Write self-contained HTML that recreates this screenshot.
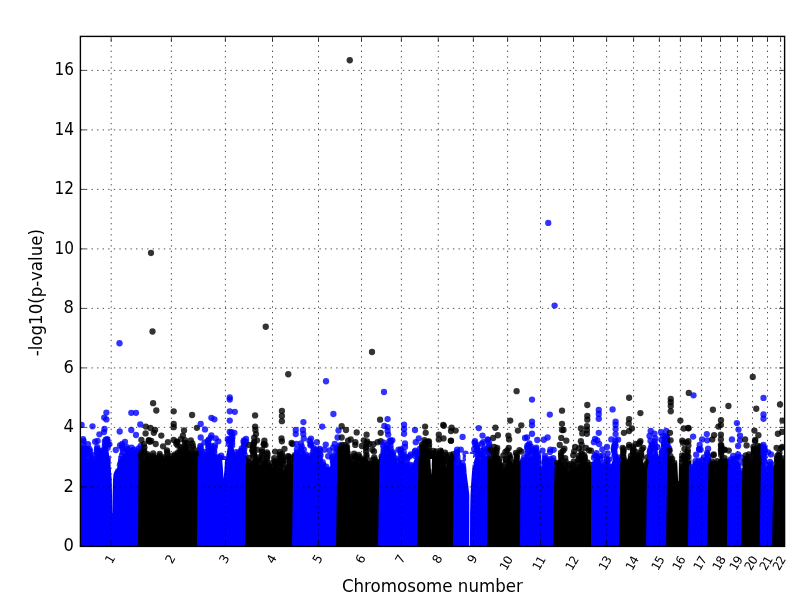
<!DOCTYPE html>
<html><head><meta charset="utf-8"><title>Manhattan plot</title>
<style>html,body{margin:0;padding:0;background:#fff;overflow:hidden}svg{display:block}text{font-family:"DejaVu Sans","Liberation Sans",sans-serif;fill:#000}</style></head><body>
<svg width="800" height="600" viewBox="0 0 800 600">
<rect width="800" height="600" fill="#fff"/>
<defs><clipPath id="ax"><rect x="80.4" y="36.4" width="704.2" height="510"/></clipPath></defs>
<g clip-path="url(#ax)">
<path d="M80 548.4 L80 444.12 L81.41 446.46 L82.71 446.54 L84.42 447.55 L86.33 457.83 L88.14 458.77 L89.47 461.11 L91.83 460.62 L93.34 461.94 L95.87 453.14 L97.62 454.63 L98.89 453.68 L100.49 449.65 L101.86 450.08 L104.2 443.5 L106.21 446.8 L107.94 447.21 L109.22 456.21 L110.71 467.49 L112.51 472.07 L114.53 471.71 L116.15 470.32 L118.33 464.24 L120.33 457.63 L122.76 455.01 L124.36 454.28 L125.73 451.02 L127.99 448.93 L129.87 447.74 L132.01 450.65 L134.01 450.54 L135.65 449.09 L137.68 453.44 L139.52 455.7 L141 454 L141 548.4Z" fill="#0000ff"/>
<g fill="#0000ff" fill-opacity="0.8"><circle cx="82.67" cy="447.6" r="3.15"/><circle cx="83.38" cy="444.7" r="3.15"/><circle cx="83.59" cy="441.21" r="3.15"/><circle cx="83.06" cy="439.14" r="3.15"/><circle cx="84.81" cy="456.24" r="3.15"/><circle cx="85.59" cy="454.62" r="3.15"/><circle cx="84.96" cy="452.86" r="3.15"/><circle cx="85.71" cy="450.58" r="3.15"/><circle cx="85.21" cy="448.92" r="3.15"/><circle cx="89.65" cy="462.68" r="3.15"/><circle cx="89.75" cy="460.35" r="3.15"/><circle cx="90.47" cy="457.08" r="3.15"/><circle cx="89.53" cy="455.28" r="3.15"/><circle cx="89.6" cy="453.31" r="3.15"/><circle cx="90.02" cy="450.84" r="3.15"/><circle cx="89.32" cy="448.82" r="3.15"/><circle cx="93.25" cy="463.87" r="3.15"/><circle cx="93.17" cy="461.34" r="3.15"/><circle cx="92.49" cy="458.49" r="3.15"/><circle cx="93.36" cy="455.19" r="3.15"/><circle cx="96.94" cy="453.31" r="3.15"/><circle cx="96.89" cy="450.54" r="3.15"/><circle cx="97.07" cy="448.91" r="3.15"/><circle cx="97.23" cy="447.08" r="3.15"/><circle cx="99.26" cy="452.74" r="3.15"/><circle cx="99.87" cy="451.19" r="3.15"/><circle cx="101.7" cy="452.04" r="3.15"/><circle cx="102.28" cy="450.29" r="3.15"/><circle cx="104.79" cy="446.63" r="3.15"/><circle cx="104.98" cy="444.45" r="3.15"/><circle cx="104.86" cy="441.29" r="3.15"/><circle cx="105.8" cy="439.74" r="3.15"/><circle cx="107.74" cy="447.85" r="3.15"/><circle cx="108.14" cy="444.39" r="3.15"/><circle cx="107.42" cy="441.5" r="3.15"/><circle cx="107.3" cy="439.27" r="3.15"/><circle cx="110.97" cy="472.3" r="3.15"/><circle cx="111.88" cy="469.17" r="3.15"/><circle cx="111.67" cy="465.97" r="3.15"/><circle cx="111.59" cy="462.83" r="3.15"/><circle cx="111.32" cy="460.88" r="3.15"/><circle cx="110.74" cy="458.67" r="3.15"/><circle cx="114.69" cy="473.72" r="3.15"/><circle cx="114.66" cy="471.33" r="3.15"/><circle cx="118.68" cy="463.48" r="3.15"/><circle cx="118.65" cy="461.59" r="3.15"/><circle cx="119.48" cy="458.84" r="3.15"/><circle cx="121.94" cy="455.34" r="3.15"/><circle cx="122.93" cy="452.51" r="3.15"/><circle cx="122.74" cy="449.45" r="3.15"/><circle cx="122.06" cy="446.99" r="3.15"/><circle cx="122.24" cy="443.92" r="3.15"/><circle cx="127.89" cy="451.88" r="3.15"/><circle cx="126.96" cy="448.93" r="3.15"/><circle cx="126.94" cy="447.18" r="3.15"/><circle cx="132.35" cy="450.41" r="3.15"/><circle cx="131.6" cy="447.59" r="3.15"/><circle cx="134.35" cy="449.61" r="3.15"/><circle cx="139.36" cy="455" r="3.15"/><circle cx="138.67" cy="453.08" r="3.15"/><circle cx="138.66" cy="450.99" r="3.15"/><circle cx="138.68" cy="448.32" r="3.15"/><circle cx="115.84" cy="458.38" r="3.15"/><circle cx="109.39" cy="444.37" r="3.15"/><circle cx="95.12" cy="441.75" r="3.15"/><circle cx="86.98" cy="449.49" r="3.15"/><circle cx="88.02" cy="444.17" r="3.15"/></g>
<path d="M111 446 L118.6 446 L118.2 460 L115.6 469 L113.5 474 L113 480 L112.6 495 L112.3 513 L112.1 513 L112 495 L111.7 480 L111.2 474 L110.6 465Z" fill="#fff"/>
<g fill="#0000ff" fill-opacity="0.8"><circle cx="106.4" cy="412.6" r="3.15"/><circle cx="104.2" cy="417.6" r="3.15"/><circle cx="106.4" cy="419.4" r="3.15"/><circle cx="81.6" cy="424.9" r="3.15"/><circle cx="92.5" cy="426.3" r="3.15"/><circle cx="104.5" cy="429" r="3.15"/><circle cx="99.4" cy="434.3" r="3.15"/><circle cx="104" cy="432" r="3.15"/><circle cx="107" cy="440" r="3.15"/><circle cx="97.6" cy="441" r="3.15"/><circle cx="131.3" cy="412.8" r="3.15"/><circle cx="136" cy="412.8" r="3.15"/><circle cx="140.3" cy="424.4" r="3.15"/><circle cx="119.7" cy="431.5" r="3.15"/><circle cx="131.3" cy="430" r="3.15"/><circle cx="136" cy="435" r="3.15"/><circle cx="125" cy="442" r="3.15"/><circle cx="120" cy="445.4" r="3.15"/><circle cx="115.8" cy="450" r="3.15"/><circle cx="140.7" cy="446" r="3.15"/><circle cx="119.5" cy="343.25" r="3.15"/></g>
<path d="M138 548.4 L138.5 461.05 L139.7 458.79 L141.71 461.02 L143.5 460.71 L145.4 458.31 L147.34 455.26 L149.15 455.63 L150.36 458.5 L151.8 456.87 L154.01 457.28 L155.67 457.09 L157.65 458.42 L159 457.3 L160.54 455.99 L162.83 457.6 L164.81 459.26 L167.29 458.17 L169.35 458.9 L171.26 459.46 L173.1 457.93 L174.97 459.22 L177.15 458.02 L179.66 453.93 L181.65 456.12 L184.02 450.5 L185.39 451.11 L186.7 449.94 L188 452.51 L190.3 454.42 L191.71 453.98 L193.84 451.95 L196.27 457.05 L197.78 457.26 L199.54 454.94 L200.2 455 L200.2 548.4Z" fill="#000000"/>
<g fill="#000000" fill-opacity="0.8"><circle cx="141.51" cy="460" r="3.15"/><circle cx="141.48" cy="458.11" r="3.15"/><circle cx="141.12" cy="455.16" r="3.15"/><circle cx="141.63" cy="452.56" r="3.15"/><circle cx="144.17" cy="459.33" r="3.15"/><circle cx="145.04" cy="455.86" r="3.15"/><circle cx="144.22" cy="452.41" r="3.15"/><circle cx="144.14" cy="450.38" r="3.15"/><circle cx="144.42" cy="447.32" r="3.15"/><circle cx="148.46" cy="458.51" r="3.15"/><circle cx="148.2" cy="455.87" r="3.15"/><circle cx="147.43" cy="454.19" r="3.15"/><circle cx="151.4" cy="458" r="3.15"/><circle cx="154" cy="458" r="3.15"/><circle cx="153.04" cy="455.96" r="3.15"/><circle cx="153.17" cy="453.41" r="3.15"/><circle cx="155.75" cy="458" r="3.15"/><circle cx="159.86" cy="458.05" r="3.15"/><circle cx="159.67" cy="455.86" r="3.15"/><circle cx="159.67" cy="453.86" r="3.15"/><circle cx="164.43" cy="458.78" r="3.15"/><circle cx="164.29" cy="457.07" r="3.15"/><circle cx="167.97" cy="459.48" r="3.15"/><circle cx="167.79" cy="457.29" r="3.15"/><circle cx="167.55" cy="454.38" r="3.15"/><circle cx="167.21" cy="452.07" r="3.15"/><circle cx="166.95" cy="450.46" r="3.15"/><circle cx="171.11" cy="459.36" r="3.15"/><circle cx="172.06" cy="456.17" r="3.15"/><circle cx="174.41" cy="458.22" r="3.15"/><circle cx="174.39" cy="456.4" r="3.15"/><circle cx="175.01" cy="454.38" r="3.15"/><circle cx="177.87" cy="456.76" r="3.15"/><circle cx="177.5" cy="454.55" r="3.15"/><circle cx="178.07" cy="452.28" r="3.15"/><circle cx="180.42" cy="455.53" r="3.15"/><circle cx="180.58" cy="453.85" r="3.15"/><circle cx="180.13" cy="452.27" r="3.15"/><circle cx="180.38" cy="450.16" r="3.15"/><circle cx="180.74" cy="447.49" r="3.15"/><circle cx="184.54" cy="452.88" r="3.15"/><circle cx="185.26" cy="450.73" r="3.15"/><circle cx="184.94" cy="448.93" r="3.15"/><circle cx="184.13" cy="446.15" r="3.15"/><circle cx="185.15" cy="442.98" r="3.15"/><circle cx="184.96" cy="440.22" r="3.15"/><circle cx="187.49" cy="452.36" r="3.15"/><circle cx="187.48" cy="449.25" r="3.15"/><circle cx="187.56" cy="446.59" r="3.15"/><circle cx="187.32" cy="443.72" r="3.15"/><circle cx="188.71" cy="453.06" r="3.15"/><circle cx="193.08" cy="454.34" r="3.15"/><circle cx="192.27" cy="451.87" r="3.15"/><circle cx="193.16" cy="448.77" r="3.15"/><circle cx="192.9" cy="446.26" r="3.15"/><circle cx="192.34" cy="443.45" r="3.15"/><circle cx="195.89" cy="455.45" r="3.15"/><circle cx="195.91" cy="453.54" r="3.15"/><circle cx="199.32" cy="456" r="3.15"/><circle cx="199.24" cy="452.97" r="3.15"/><circle cx="198.59" cy="450.18" r="3.15"/><circle cx="149.98" cy="441.85" r="3.15"/><circle cx="151.21" cy="440.87" r="3.15"/><circle cx="176.27" cy="443.65" r="3.15"/><circle cx="176.82" cy="441.61" r="3.15"/><circle cx="143.97" cy="444.21" r="3.15"/><circle cx="176.94" cy="442.03" r="3.15"/><circle cx="163.07" cy="446.35" r="3.15"/><circle cx="148.82" cy="440.19" r="3.15"/><circle cx="180.96" cy="439.27" r="3.15"/></g>
<g fill="#000000" fill-opacity="0.8"><circle cx="153.1" cy="403.2" r="3.15"/><circle cx="156.3" cy="410.5" r="3.15"/><circle cx="173.7" cy="411.3" r="3.15"/><circle cx="192.1" cy="415" r="3.15"/><circle cx="173.7" cy="424" r="3.15"/><circle cx="173.7" cy="427.2" r="3.15"/><circle cx="145.8" cy="426.6" r="3.15"/><circle cx="150.4" cy="428" r="3.15"/><circle cx="155.1" cy="430" r="3.15"/><circle cx="153.8" cy="432.8" r="3.15"/><circle cx="145.6" cy="433.4" r="3.15"/><circle cx="161.3" cy="435.6" r="3.15"/><circle cx="184" cy="430.4" r="3.15"/><circle cx="182.9" cy="435.6" r="3.15"/><circle cx="196.9" cy="427.8" r="3.15"/><circle cx="141.4" cy="440" r="3.15"/><circle cx="148.9" cy="440.7" r="3.15"/><circle cx="173.7" cy="440" r="3.15"/><circle cx="167.9" cy="442.2" r="3.15"/><circle cx="190.8" cy="440.3" r="3.15"/><circle cx="177.8" cy="445.4" r="3.15"/><circle cx="155.7" cy="444" r="3.15"/><circle cx="151" cy="253" r="3.15"/><circle cx="152.5" cy="331.5" r="3.15"/></g>
<path d="M197 548.4 L197.7 458.22 L198.63 455.46 L199.84 449.27 L201.42 452.71 L203.59 454.03 L205.2 453.81 L207.05 450.97 L208.41 451.19 L209.89 449.54 L212.4 446.99 L214.24 452.84 L216.8 454.88 L218.38 457.89 L220.9 462.72 L222.91 466.95 L224.85 471.26 L226.23 456.08 L228.15 444.99 L230.33 442.59 L232.79 444.85 L234.02 449.67 L235.91 459.48 L237.53 459.23 L239.21 461.45 L241.59 457.33 L243.84 456.17 L245.21 454.18 L247.41 458.01 L248.3 456 L248.3 548.4Z" fill="#0000ff"/>
<g fill="#0000ff" fill-opacity="0.8"><circle cx="201.5" cy="452.54" r="3.15"/><circle cx="200.73" cy="449.86" r="3.15"/><circle cx="200.63" cy="447.51" r="3.15"/><circle cx="200.42" cy="445.91" r="3.15"/><circle cx="203.38" cy="454.25" r="3.15"/><circle cx="204.3" cy="452.01" r="3.15"/><circle cx="208.72" cy="450.53" r="3.15"/><circle cx="208.46" cy="447.93" r="3.15"/><circle cx="208.47" cy="446.33" r="3.15"/><circle cx="208.5" cy="443.93" r="3.15"/><circle cx="207.94" cy="441.14" r="3.15"/><circle cx="208.7" cy="439.54" r="3.15"/><circle cx="211.9" cy="449.61" r="3.15"/><circle cx="211.32" cy="446.16" r="3.15"/><circle cx="214.11" cy="452.51" r="3.15"/><circle cx="214.16" cy="450.69" r="3.15"/><circle cx="214.51" cy="447.38" r="3.15"/><circle cx="215" cy="445.44" r="3.15"/><circle cx="217.37" cy="458.96" r="3.15"/><circle cx="217.37" cy="456.78" r="3.15"/><circle cx="220.94" cy="464.73" r="3.15"/><circle cx="220.53" cy="462.4" r="3.15"/><circle cx="220.49" cy="459.85" r="3.15"/><circle cx="220.11" cy="457.68" r="3.15"/><circle cx="221.2" cy="455.62" r="3.15"/><circle cx="223.81" cy="470" r="3.15"/><circle cx="223.85" cy="467.96" r="3.15"/><circle cx="224.08" cy="465.66" r="3.15"/><circle cx="224.57" cy="462.25" r="3.15"/><circle cx="223.57" cy="459" r="3.15"/><circle cx="228.67" cy="444.11" r="3.15"/><circle cx="228.84" cy="440.9" r="3.15"/><circle cx="227.81" cy="438.9" r="3.15"/><circle cx="232.11" cy="445.54" r="3.15"/><circle cx="232.16" cy="442.74" r="3.15"/><circle cx="231.9" cy="440.33" r="3.15"/><circle cx="232.18" cy="438.75" r="3.15"/><circle cx="232.35" cy="436.78" r="3.15"/><circle cx="231.61" cy="433.99" r="3.15"/><circle cx="231.54" cy="432.24" r="3.15"/><circle cx="235.8" cy="460.75" r="3.15"/><circle cx="236.06" cy="458.8" r="3.15"/><circle cx="235.7" cy="457.28" r="3.15"/><circle cx="236.49" cy="454.86" r="3.15"/><circle cx="236.4" cy="452.07" r="3.15"/><circle cx="238.89" cy="462.91" r="3.15"/><circle cx="238.07" cy="460.8" r="3.15"/><circle cx="238.85" cy="458.3" r="3.15"/><circle cx="241.09" cy="461.17" r="3.15"/><circle cx="241.22" cy="459.6" r="3.15"/><circle cx="241.63" cy="457.26" r="3.15"/><circle cx="241.77" cy="455.37" r="3.15"/><circle cx="241.42" cy="452.39" r="3.15"/><circle cx="241.98" cy="450.48" r="3.15"/><circle cx="241.8" cy="448.35" r="3.15"/><circle cx="244.62" cy="454.76" r="3.15"/><circle cx="243.7" cy="452.27" r="3.15"/><circle cx="243.98" cy="450.33" r="3.15"/><circle cx="244.62" cy="447.5" r="3.15"/><circle cx="243.95" cy="445.7" r="3.15"/><circle cx="244.65" cy="443.78" r="3.15"/><circle cx="243.54" cy="441.99" r="3.15"/><circle cx="243.95" cy="440.37" r="3.15"/><circle cx="245.83" cy="441.61" r="3.15"/><circle cx="210.61" cy="437.83" r="3.15"/><circle cx="218.32" cy="441.29" r="3.15"/><circle cx="240.91" cy="451" r="3.15"/><circle cx="204.49" cy="442.47" r="3.15"/><circle cx="238.88" cy="452.85" r="3.15"/></g>
<path d="M222.2 460 L225 460 L224.4 470 L223.6 479 L223 470Z" fill="#fff"/>
<g fill="#0000ff" fill-opacity="0.8"><circle cx="200.7" cy="424" r="3.15"/><circle cx="205" cy="429.4" r="3.15"/><circle cx="211.4" cy="417.8" r="3.15"/><circle cx="214.4" cy="419.3" r="3.15"/><circle cx="211.4" cy="435.3" r="3.15"/><circle cx="200.7" cy="437.5" r="3.15"/><circle cx="215.7" cy="438.4" r="3.15"/><circle cx="229.75" cy="397.5" r="3.15"/><circle cx="229.75" cy="399.6" r="3.15"/><circle cx="229.75" cy="411.3" r="3.15"/><circle cx="234.8" cy="411.8" r="3.15"/><circle cx="229.75" cy="420.6" r="3.15"/><circle cx="229.75" cy="431.9" r="3.15"/><circle cx="234.4" cy="432.8" r="3.15"/><circle cx="246" cy="439" r="3.15"/><circle cx="229.75" cy="439.4" r="3.15"/></g>
<path d="M245 548.4 L245.8 464.16 L247.6 466.36 L249.26 463.87 L251.77 461.34 L253.01 456.79 L254.74 451.3 L256.41 449.79 L257.61 457.56 L259.3 463.93 L260.68 464.66 L262.17 462.01 L264.52 460.42 L266.32 457.95 L268.18 462.5 L270.67 463.47 L272.38 467.35 L273.62 462.85 L275.96 464.26 L277.22 463.11 L278.51 468.43 L280.07 465.48 L282.52 465.24 L284.1 471.34 L286.17 468.9 L288.37 469.09 L289.96 463.3 L292.22 464.11 L294.3 463.22 L295.54 459.67 L295.8 461 L295.8 548.4Z" fill="#000000"/>
<g fill="#000000" fill-opacity="0.8"><circle cx="248.92" cy="466.25" r="3.15"/><circle cx="249.51" cy="463.76" r="3.15"/><circle cx="249.36" cy="461.9" r="3.15"/><circle cx="253.26" cy="455.91" r="3.15"/><circle cx="253.3" cy="453.77" r="3.15"/><circle cx="252.96" cy="450.7" r="3.15"/><circle cx="253.77" cy="448.81" r="3.15"/><circle cx="252.95" cy="446.81" r="3.15"/><circle cx="253.53" cy="445.25" r="3.15"/><circle cx="254.04" cy="443.1" r="3.15"/><circle cx="257.95" cy="462.22" r="3.15"/><circle cx="258.68" cy="459.72" r="3.15"/><circle cx="258.11" cy="457.32" r="3.15"/><circle cx="262.71" cy="463.51" r="3.15"/><circle cx="261.84" cy="460.68" r="3.15"/><circle cx="262.05" cy="457.5" r="3.15"/><circle cx="262.14" cy="454.87" r="3.15"/><circle cx="261.93" cy="451.89" r="3.15"/><circle cx="261.99" cy="449.9" r="3.15"/><circle cx="266.82" cy="462.24" r="3.15"/><circle cx="266.95" cy="458.76" r="3.15"/><circle cx="267.32" cy="456.79" r="3.15"/><circle cx="267.53" cy="453.99" r="3.15"/><circle cx="266.91" cy="452.28" r="3.15"/><circle cx="271.09" cy="466.6" r="3.15"/><circle cx="271.57" cy="463.15" r="3.15"/><circle cx="275.12" cy="462.69" r="3.15"/><circle cx="274.7" cy="460.98" r="3.15"/><circle cx="274.24" cy="458.24" r="3.15"/><circle cx="277.13" cy="466.02" r="3.15"/><circle cx="276.65" cy="463.21" r="3.15"/><circle cx="279.76" cy="465.35" r="3.15"/><circle cx="280.34" cy="463.44" r="3.15"/><circle cx="279.47" cy="460.84" r="3.15"/><circle cx="279.86" cy="459.14" r="3.15"/><circle cx="280.16" cy="456.54" r="3.15"/><circle cx="279.59" cy="454.86" r="3.15"/><circle cx="279.88" cy="451.97" r="3.15"/><circle cx="282.81" cy="467.82" r="3.15"/><circle cx="283.51" cy="464.6" r="3.15"/><circle cx="282.55" cy="462.37" r="3.15"/><circle cx="282.56" cy="459.41" r="3.15"/><circle cx="283.39" cy="457.9" r="3.15"/><circle cx="287.33" cy="471.69" r="3.15"/><circle cx="286.79" cy="469.86" r="3.15"/><circle cx="287.54" cy="467.26" r="3.15"/><circle cx="289.65" cy="467.63" r="3.15"/><circle cx="289.38" cy="465.83" r="3.15"/><circle cx="290.15" cy="463.29" r="3.15"/><circle cx="289.63" cy="461.57" r="3.15"/><circle cx="290.2" cy="458.46" r="3.15"/><circle cx="289.19" cy="456.57" r="3.15"/><circle cx="295.08" cy="462" r="3.15"/><circle cx="295.05" cy="459.72" r="3.15"/><circle cx="294.96" cy="456.98" r="3.15"/><circle cx="294.91" cy="455.16" r="3.15"/><circle cx="292.48" cy="444.1" r="3.15"/><circle cx="282.1" cy="453.93" r="3.15"/><circle cx="263.84" cy="443.79" r="3.15"/><circle cx="285.51" cy="460.59" r="3.15"/><circle cx="254.17" cy="437.71" r="3.15"/><circle cx="263.8" cy="444.54" r="3.15"/><circle cx="288.03" cy="456.1" r="3.15"/></g>
<g fill="#000000" fill-opacity="0.8"><circle cx="255.1" cy="415.4" r="3.15"/><circle cx="255.1" cy="426.6" r="3.15"/><circle cx="255.4" cy="430" r="3.15"/><circle cx="256" cy="434.1" r="3.15"/><circle cx="254.1" cy="442.2" r="3.15"/><circle cx="257" cy="440.3" r="3.15"/><circle cx="264.4" cy="440.7" r="3.15"/><circle cx="265.4" cy="445" r="3.15"/><circle cx="281.9" cy="410.9" r="3.15"/><circle cx="281.9" cy="416" r="3.15"/><circle cx="281.9" cy="421.2" r="3.15"/><circle cx="281.5" cy="438.4" r="3.15"/><circle cx="281.9" cy="441.3" r="3.15"/><circle cx="275.1" cy="451.6" r="3.15"/><circle cx="284.5" cy="448.8" r="3.15"/><circle cx="291.6" cy="443" r="3.15"/><circle cx="281.7" cy="455.3" r="3.15"/><circle cx="249.4" cy="445" r="3.15"/><circle cx="252.25" cy="450.6" r="3.15"/><circle cx="257" cy="449.7" r="3.15"/><circle cx="248.9" cy="458" r="3.15"/><circle cx="265.75" cy="326.75" r="3.15"/><circle cx="288.25" cy="374.25" r="3.15"/></g>
<path d="M292 548.4 L293.3 456.73 L294.36 452.04 L295.87 450.71 L297.79 451.76 L299.16 452.11 L301.38 454.95 L302.64 452.33 L304.9 451.68 L307.27 458.68 L309.31 457.79 L311.39 453.97 L313.18 455.05 L314.97 455.13 L316.8 453.73 L318.03 456.91 L319.91 459.23 L322.18 465.82 L324.03 465.03 L325.89 466.9 L327.27 468.65 L328.6 468.71 L330.51 465.34 L332.6 459.97 L334.83 455.08 L336.74 447.98 L338.65 448.39 L339.9 449 L339.9 548.4Z" fill="#0000ff"/>
<g fill="#0000ff" fill-opacity="0.8"><circle cx="297.1" cy="452.38" r="3.15"/><circle cx="296.88" cy="449.41" r="3.15"/><circle cx="301.94" cy="453.92" r="3.15"/><circle cx="301.79" cy="452.09" r="3.15"/><circle cx="300.92" cy="448.72" r="3.15"/><circle cx="301.75" cy="446.52" r="3.15"/><circle cx="305.71" cy="459.12" r="3.15"/><circle cx="306.64" cy="456.61" r="3.15"/><circle cx="305.85" cy="454.69" r="3.15"/><circle cx="308.69" cy="458.86" r="3.15"/><circle cx="312.96" cy="455.64" r="3.15"/><circle cx="313.2" cy="452.4" r="3.15"/><circle cx="313.59" cy="449.74" r="3.15"/><circle cx="313.72" cy="448.03" r="3.15"/><circle cx="316.24" cy="455.11" r="3.15"/><circle cx="316.61" cy="453.26" r="3.15"/><circle cx="316.7" cy="451.66" r="3.15"/><circle cx="316.48" cy="449.66" r="3.15"/><circle cx="319.47" cy="461.91" r="3.15"/><circle cx="319.65" cy="460.34" r="3.15"/><circle cx="319.99" cy="457.61" r="3.15"/><circle cx="320.55" cy="455.09" r="3.15"/><circle cx="319.74" cy="453.32" r="3.15"/><circle cx="319.5" cy="450.52" r="3.15"/><circle cx="319.9" cy="449.01" r="3.15"/><circle cx="323.25" cy="466.57" r="3.15"/><circle cx="323.29" cy="464.66" r="3.15"/><circle cx="322.7" cy="462.21" r="3.15"/><circle cx="326.04" cy="469.85" r="3.15"/><circle cx="326.21" cy="466.61" r="3.15"/><circle cx="328.74" cy="470" r="3.15"/><circle cx="332.88" cy="463.06" r="3.15"/><circle cx="333.09" cy="461.06" r="3.15"/><circle cx="332.64" cy="459.47" r="3.15"/><circle cx="332.29" cy="457.16" r="3.15"/><circle cx="332.94" cy="455.54" r="3.15"/><circle cx="336.26" cy="451.99" r="3.15"/><circle cx="336.63" cy="449.21" r="3.15"/><circle cx="339.65" cy="450" r="3.15"/><circle cx="339.44" cy="446.93" r="3.15"/><circle cx="339.6" cy="445.42" r="3.15"/><circle cx="333.27" cy="447.44" r="3.15"/><circle cx="329.59" cy="450.48" r="3.15"/><circle cx="309.44" cy="440.65" r="3.15"/><circle cx="310.39" cy="445.28" r="3.15"/><circle cx="310.96" cy="438.54" r="3.15"/><circle cx="311.09" cy="444.29" r="3.15"/></g>
<g fill="#0000ff" fill-opacity="0.8"><circle cx="333.4" cy="414" r="3.15"/><circle cx="303.4" cy="422.1" r="3.15"/><circle cx="322.2" cy="426.6" r="3.15"/><circle cx="295.75" cy="430" r="3.15"/><circle cx="295.75" cy="434.1" r="3.15"/><circle cx="302.9" cy="430" r="3.15"/><circle cx="303.25" cy="434" r="3.15"/><circle cx="303.8" cy="438.4" r="3.15"/><circle cx="296.3" cy="444" r="3.15"/><circle cx="301" cy="443.5" r="3.15"/><circle cx="310.75" cy="443.1" r="3.15"/><circle cx="316.9" cy="442.2" r="3.15"/><circle cx="303.8" cy="449.7" r="3.15"/><circle cx="325.75" cy="444.6" r="3.15"/><circle cx="324.4" cy="449.7" r="3.15"/><circle cx="328.2" cy="456.25" r="3.15"/><circle cx="338.5" cy="430.6" r="3.15"/><circle cx="337.6" cy="437.5" r="3.15"/><circle cx="334.75" cy="444" r="3.15"/><circle cx="310.75" cy="455.3" r="3.15"/><circle cx="326" cy="381.25" r="3.15"/></g>
<path d="M336 548.4 L337.4 452.21 L337.83 449.48 L339.18 448.91 L340.44 448.87 L342.68 451.8 L345.07 458.11 L346.64 458.58 L348.45 461.2 L350.38 459.6 L352.48 461.84 L353.99 460.51 L355.21 457.15 L356.74 462.12 L359.26 462.97 L360.92 461.98 L362.58 457.12 L365.05 456.6 L367.22 458.26 L369.79 462.43 L372.17 462.91 L374.57 460.97 L376.78 462.74 L378.41 460.39 L380.48 455.89 L382.8 458 L382.8 548.4Z" fill="#000000"/>
<g fill="#000000" fill-opacity="0.8"><circle cx="340.41" cy="450.62" r="3.15"/><circle cx="340.03" cy="448.84" r="3.15"/><circle cx="344.96" cy="457.14" r="3.15"/><circle cx="344.79" cy="455.51" r="3.15"/><circle cx="345.06" cy="453.28" r="3.15"/><circle cx="345.15" cy="450.14" r="3.15"/><circle cx="345.12" cy="448.51" r="3.15"/><circle cx="345.21" cy="445.18" r="3.15"/><circle cx="347.46" cy="459.84" r="3.15"/><circle cx="347.45" cy="456.69" r="3.15"/><circle cx="346.81" cy="454.61" r="3.15"/><circle cx="347.6" cy="452.92" r="3.15"/><circle cx="347.08" cy="451.01" r="3.15"/><circle cx="346.72" cy="448.66" r="3.15"/><circle cx="347.03" cy="446.64" r="3.15"/><circle cx="350.4" cy="461.76" r="3.15"/><circle cx="350.54" cy="458.56" r="3.15"/><circle cx="350.29" cy="457" r="3.15"/><circle cx="354.76" cy="459.17" r="3.15"/><circle cx="355.15" cy="457.24" r="3.15"/><circle cx="355.1" cy="455.55" r="3.15"/><circle cx="354.12" cy="453.71" r="3.15"/><circle cx="359.36" cy="463" r="3.15"/><circle cx="359" cy="461.13" r="3.15"/><circle cx="359.4" cy="458.93" r="3.15"/><circle cx="359.54" cy="456.91" r="3.15"/><circle cx="358.66" cy="454.84" r="3.15"/><circle cx="362" cy="459.5" r="3.15"/><circle cx="366.42" cy="457.18" r="3.15"/><circle cx="366.46" cy="454.88" r="3.15"/><circle cx="366.09" cy="451.6" r="3.15"/><circle cx="366.02" cy="448.32" r="3.15"/><circle cx="366.31" cy="446.41" r="3.15"/><circle cx="366.59" cy="443.11" r="3.15"/><circle cx="371.28" cy="463.38" r="3.15"/><circle cx="371.55" cy="460.37" r="3.15"/><circle cx="374.7" cy="462.14" r="3.15"/><circle cx="374.58" cy="459.32" r="3.15"/><circle cx="374.22" cy="457.48" r="3.15"/><circle cx="378.49" cy="463.93" r="3.15"/><circle cx="377.66" cy="461.95" r="3.15"/><circle cx="381.93" cy="459" r="3.15"/><circle cx="381.73" cy="456.46" r="3.15"/><circle cx="369.47" cy="443.92" r="3.15"/><circle cx="373.98" cy="451.44" r="3.15"/><circle cx="373.38" cy="444.27" r="3.15"/><circle cx="348.08" cy="440.75" r="3.15"/><circle cx="355.28" cy="444.97" r="3.15"/><circle cx="367.14" cy="441.38" r="3.15"/></g>
<g fill="#000000" fill-opacity="0.8"><circle cx="341.7" cy="426.25" r="3.15"/><circle cx="346" cy="430" r="3.15"/><circle cx="341.7" cy="437.5" r="3.15"/><circle cx="356.7" cy="432.4" r="3.15"/><circle cx="366.6" cy="434.7" r="3.15"/><circle cx="350.7" cy="439.4" r="3.15"/><circle cx="355.4" cy="442.2" r="3.15"/><circle cx="363.8" cy="440.3" r="3.15"/><circle cx="361.9" cy="446" r="3.15"/><circle cx="342.25" cy="445" r="3.15"/><circle cx="346" cy="447.8" r="3.15"/><circle cx="372.25" cy="449.7" r="3.15"/><circle cx="380.1" cy="419.7" r="3.15"/><circle cx="380.7" cy="432.8" r="3.15"/><circle cx="380.7" cy="441.25" r="3.15"/><circle cx="377.5" cy="442.2" r="3.15"/><circle cx="349.75" cy="60.25" r="3.15"/><circle cx="372" cy="352" r="3.15"/></g>
<path d="M378 548.4 L379.5 460.38 L380.22 456.01 L382.77 453.42 L384.51 456.04 L386.82 453.05 L388.63 450.11 L390.72 451.75 L392.21 454.56 L393.46 455.33 L395.76 458.6 L397.67 462.86 L399.51 460.45 L401.56 460.74 L403.8 458.55 L405.6 461.96 L407.85 464.45 L409.37 467.48 L411.8 465.97 L413.98 460.85 L416.13 454.45 L417.97 450.77 L420.05 448.99 L421.3 451 L421.3 548.4Z" fill="#0000ff"/>
<g fill="#0000ff" fill-opacity="0.8"><circle cx="383.66" cy="455.57" r="3.15"/><circle cx="383.41" cy="453.57" r="3.15"/><circle cx="383.65" cy="451.16" r="3.15"/><circle cx="383.71" cy="448.84" r="3.15"/><circle cx="383.12" cy="445.48" r="3.15"/><circle cx="383.83" cy="442.67" r="3.15"/><circle cx="387.31" cy="452.77" r="3.15"/><circle cx="386.99" cy="449.39" r="3.15"/><circle cx="387.06" cy="447.69" r="3.15"/><circle cx="387.23" cy="445.11" r="3.15"/><circle cx="390.78" cy="454.89" r="3.15"/><circle cx="390.54" cy="451.49" r="3.15"/><circle cx="390.76" cy="448.62" r="3.15"/><circle cx="390.43" cy="445.6" r="3.15"/><circle cx="390.71" cy="442.13" r="3.15"/><circle cx="390.62" cy="440.52" r="3.15"/><circle cx="393.17" cy="456.53" r="3.15"/><circle cx="392.65" cy="454.33" r="3.15"/><circle cx="393.22" cy="452.38" r="3.15"/><circle cx="396.38" cy="460.42" r="3.15"/><circle cx="396.06" cy="458.5" r="3.15"/><circle cx="401.01" cy="462.53" r="3.15"/><circle cx="401.49" cy="460.58" r="3.15"/><circle cx="401.1" cy="458.37" r="3.15"/><circle cx="401.32" cy="455.24" r="3.15"/><circle cx="400.69" cy="452.8" r="3.15"/><circle cx="400.49" cy="450.2" r="3.15"/><circle cx="403.91" cy="457" r="3.15"/><circle cx="403.4" cy="455.13" r="3.15"/><circle cx="403.74" cy="452.19" r="3.15"/><circle cx="407.07" cy="464.91" r="3.15"/><circle cx="406.74" cy="462.09" r="3.15"/><circle cx="407.33" cy="458.73" r="3.15"/><circle cx="407.3" cy="457.12" r="3.15"/><circle cx="411.42" cy="466.32" r="3.15"/><circle cx="410.67" cy="464.79" r="3.15"/><circle cx="414.8" cy="455.75" r="3.15"/><circle cx="415.56" cy="453.78" r="3.15"/><circle cx="414.81" cy="451.59" r="3.15"/><circle cx="419.73" cy="452" r="3.15"/><circle cx="419.8" cy="448.94" r="3.15"/><circle cx="392.3" cy="440.36" r="3.15"/><circle cx="400.91" cy="449.45" r="3.15"/><circle cx="410.83" cy="454.39" r="3.15"/><circle cx="405" cy="443.4" r="3.15"/></g>
<g fill="#0000ff" fill-opacity="0.8"><circle cx="384" cy="392" r="3.15"/><circle cx="387.6" cy="419.1" r="3.15"/><circle cx="384.4" cy="425.9" r="3.15"/><circle cx="387.6" cy="427.2" r="3.15"/><circle cx="387.6" cy="431" r="3.15"/><circle cx="388.2" cy="434.7" r="3.15"/><circle cx="389.5" cy="441.25" r="3.15"/><circle cx="404.1" cy="424.75" r="3.15"/><circle cx="404.1" cy="429" r="3.15"/><circle cx="404.1" cy="433.75" r="3.15"/><circle cx="415" cy="430" r="3.15"/><circle cx="418.75" cy="438.4" r="3.15"/><circle cx="415.75" cy="442.2" r="3.15"/><circle cx="405" cy="446.9" r="3.15"/><circle cx="398.5" cy="449.7" r="3.15"/><circle cx="415.4" cy="450.6" r="3.15"/><circle cx="409.75" cy="456.25" r="3.15"/></g>
<path d="M417 548.4 L418.5 457.69 L418.48 456.96 L420.42 454.94 L422.23 454.3 L424.21 450.22 L425.74 449.57 L427.63 450.11 L429.48 455.73 L431.37 469.31 L433.33 460.16 L434.54 457.63 L436.39 452.92 L438.52 452.18 L440.25 448.72 L442.79 448.27 L444.88 457.57 L446.12 466.53 L448.28 458.22 L449.94 456.48 L451.86 453.3 L454.31 454.67 L456.3 457 L456.3 548.4Z" fill="#000000"/>
<g fill="#000000" fill-opacity="0.8"><circle cx="422.43" cy="453.5" r="3.15"/><circle cx="421.97" cy="451.27" r="3.15"/><circle cx="422.32" cy="448.72" r="3.15"/><circle cx="421.92" cy="446.8" r="3.15"/><circle cx="422.06" cy="444.45" r="3.15"/><circle cx="424.89" cy="452.06" r="3.15"/><circle cx="425.06" cy="448.61" r="3.15"/><circle cx="424.68" cy="445.53" r="3.15"/><circle cx="424.64" cy="443.39" r="3.15"/><circle cx="428.84" cy="453.89" r="3.15"/><circle cx="428.54" cy="452.29" r="3.15"/><circle cx="428.41" cy="450.78" r="3.15"/><circle cx="428.91" cy="447.44" r="3.15"/><circle cx="429.13" cy="444.62" r="3.15"/><circle cx="428.92" cy="441.3" r="3.15"/><circle cx="432.88" cy="464.04" r="3.15"/><circle cx="432.86" cy="462.11" r="3.15"/><circle cx="432.98" cy="459.7" r="3.15"/><circle cx="432.28" cy="457.99" r="3.15"/><circle cx="432.99" cy="456.42" r="3.15"/><circle cx="432.85" cy="453.09" r="3.15"/><circle cx="433.05" cy="450.85" r="3.15"/><circle cx="436.26" cy="453.65" r="3.15"/><circle cx="436.27" cy="451.51" r="3.15"/><circle cx="440.6" cy="450.58" r="3.15"/><circle cx="445.52" cy="462.66" r="3.15"/><circle cx="445.45" cy="461.13" r="3.15"/><circle cx="446.11" cy="458.45" r="3.15"/><circle cx="445.55" cy="454.99" r="3.15"/><circle cx="445.1" cy="452.66" r="3.15"/><circle cx="447.77" cy="457.14" r="3.15"/><circle cx="450.17" cy="454.84" r="3.15"/><circle cx="453.3" cy="454.18" r="3.15"/><circle cx="450.85" cy="440.86" r="3.15"/><circle cx="430.93" cy="457.18" r="3.15"/><circle cx="424.47" cy="440.12" r="3.15"/><circle cx="428.09" cy="441.65" r="3.15"/></g>
<path d="M430.4 459 L432 459 L431.6 468 L431.2 475 L430.8 468Z" fill="#fff"/>
<g fill="#000000" fill-opacity="0.8"><circle cx="425.1" cy="426.6" r="3.15"/><circle cx="425.7" cy="432.8" r="3.15"/><circle cx="443.2" cy="425" r="3.15"/><circle cx="443.8" cy="425.8" r="3.15"/><circle cx="451.6" cy="427.75" r="3.15"/><circle cx="451" cy="431" r="3.15"/><circle cx="455.7" cy="430.6" r="3.15"/><circle cx="438.8" cy="434.7" r="3.15"/><circle cx="438.8" cy="439.4" r="3.15"/><circle cx="443.5" cy="438.4" r="3.15"/><circle cx="451" cy="440.7" r="3.15"/><circle cx="425.7" cy="442.2" r="3.15"/><circle cx="423.8" cy="446" r="3.15"/></g>
<path d="M453 548.4 L453.8 458.92 L455.08 462.77 L456.92 465.11 L458.48 464.58 L460.68 458.71 L461.91 462.96 L464.25 463.9 L465.89 473.69 L467.32 474.8 L469.2 470.8 L470.91 473.37 L472.73 473.88 L474.13 460.71 L475.84 455.58 L477.92 454.43 L479.66 459.75 L482.18 458.24 L484.18 453.84 L485.46 456.4 L487.65 454.64 L489.31 453.53 L490 453 L490 548.4Z" fill="#0000ff"/>
<g fill="#0000ff" fill-opacity="0.8"><circle cx="456.77" cy="464" r="3.15"/><circle cx="457.47" cy="461.64" r="3.15"/><circle cx="457.22" cy="459.39" r="3.15"/><circle cx="457.48" cy="456.69" r="3.15"/><circle cx="456.74" cy="453.57" r="3.15"/><circle cx="456.72" cy="452.07" r="3.15"/><circle cx="457.1" cy="449.72" r="3.15"/><circle cx="462.04" cy="462.88" r="3.15"/><circle cx="465.75" cy="471.51" r="3.15"/><circle cx="465.87" cy="468.64" r="3.15"/><circle cx="464.88" cy="466.45" r="3.15"/><circle cx="470.29" cy="474" r="3.15"/><circle cx="469.9" cy="472.03" r="3.15"/><circle cx="473.47" cy="470.68" r="3.15"/><circle cx="473.12" cy="467.59" r="3.15"/><circle cx="478.05" cy="455.17" r="3.15"/><circle cx="477.56" cy="452.63" r="3.15"/><circle cx="477.21" cy="449.95" r="3.15"/><circle cx="477.2" cy="448.06" r="3.15"/><circle cx="477.42" cy="445.16" r="3.15"/><circle cx="480.25" cy="459.21" r="3.15"/><circle cx="480.64" cy="455.71" r="3.15"/><circle cx="480.95" cy="454" r="3.15"/><circle cx="480.38" cy="450.93" r="3.15"/><circle cx="483.27" cy="456.17" r="3.15"/><circle cx="484.27" cy="452.69" r="3.15"/><circle cx="483.91" cy="450.22" r="3.15"/><circle cx="484.16" cy="448.2" r="3.15"/><circle cx="489.22" cy="454" r="3.15"/><circle cx="488.11" cy="451.99" r="3.15"/><circle cx="488.28" cy="450.09" r="3.15"/><circle cx="488.13" cy="448.42" r="3.15"/><circle cx="489.11" cy="445.81" r="3.15"/><circle cx="489.2" cy="443.39" r="3.15"/><circle cx="488.14" cy="440.07" r="3.15"/><circle cx="465.66" cy="458.06" r="3.15"/><circle cx="474.15" cy="449.1" r="3.15"/><circle cx="472.72" cy="454.44" r="3.15"/><circle cx="474.64" cy="442.59" r="3.15"/><circle cx="481.84" cy="443.65" r="3.15"/><circle cx="465.52" cy="453.7" r="3.15"/></g>
<path d="M465.8 454 L473.2 454 L472.8 462 L471.6 477 L471 486 L470.5 495 L470.1 513 L470 546.4 L469.3 546.4 L469.3 513 L469.3 495 L468.3 486 L467 477 L466 465Z" fill="#fff"/>
<g fill="#0000ff" fill-opacity="0.8"><circle cx="462.6" cy="436.9" r="3.15"/><circle cx="460.75" cy="449.7" r="3.15"/><circle cx="456.6" cy="454.4" r="3.15"/><circle cx="478.75" cy="428.1" r="3.15"/><circle cx="482.5" cy="435.6" r="3.15"/><circle cx="487.6" cy="439.4" r="3.15"/><circle cx="475" cy="441.25" r="3.15"/><circle cx="475.4" cy="445" r="3.15"/><circle cx="483.25" cy="442.2" r="3.15"/><circle cx="477.25" cy="450.6" r="3.15"/></g>
<path d="M487 548.4 L487.5 461.1 L489.54 461 L491.53 460.64 L494.07 455.94 L495.82 457.17 L497.25 462.15 L499.83 467.06 L501.09 468.87 L502.78 471.06 L505.25 465.61 L506.51 463.24 L508.71 456.61 L511.29 460.92 L512.69 465.12 L515.2 465.75 L516.82 464.24 L519.08 461.03 L520.74 461.79 L522.11 462.91 L523 463 L523 548.4Z" fill="#000000"/>
<g fill="#000000" fill-opacity="0.8"><circle cx="490.91" cy="462.25" r="3.15"/><circle cx="490.96" cy="460.72" r="3.15"/><circle cx="490.14" cy="458.83" r="3.15"/><circle cx="493.88" cy="457.28" r="3.15"/><circle cx="493.52" cy="454.09" r="3.15"/><circle cx="493.17" cy="451.69" r="3.15"/><circle cx="496.46" cy="459.73" r="3.15"/><circle cx="497.05" cy="458.11" r="3.15"/><circle cx="496.37" cy="455.51" r="3.15"/><circle cx="496.51" cy="452.26" r="3.15"/><circle cx="496.38" cy="449.94" r="3.15"/><circle cx="497.2" cy="447.9" r="3.15"/><circle cx="499.78" cy="467.66" r="3.15"/><circle cx="499.87" cy="465.93" r="3.15"/><circle cx="499.77" cy="464.32" r="3.15"/><circle cx="498.95" cy="461.48" r="3.15"/><circle cx="499.04" cy="459.03" r="3.15"/><circle cx="502.5" cy="471.9" r="3.15"/><circle cx="501.42" cy="468.55" r="3.15"/><circle cx="502.38" cy="466.47" r="3.15"/><circle cx="505.5" cy="463.53" r="3.15"/><circle cx="505.89" cy="460.42" r="3.15"/><circle cx="505.48" cy="458.64" r="3.15"/><circle cx="510.16" cy="458.65" r="3.15"/><circle cx="509.75" cy="456.71" r="3.15"/><circle cx="509.28" cy="454.93" r="3.15"/><circle cx="513.3" cy="465.4" r="3.15"/><circle cx="513.79" cy="462.68" r="3.15"/><circle cx="516.79" cy="465.06" r="3.15"/><circle cx="516.06" cy="462.39" r="3.15"/><circle cx="516.69" cy="460.76" r="3.15"/><circle cx="516.68" cy="458.44" r="3.15"/><circle cx="516.79" cy="456.83" r="3.15"/><circle cx="516.82" cy="454.66" r="3.15"/><circle cx="519.87" cy="464" r="3.15"/><circle cx="522.53" cy="464" r="3.15"/><circle cx="522.54" cy="462.17" r="3.15"/><circle cx="519.46" cy="450.12" r="3.15"/><circle cx="515.97" cy="452.88" r="3.15"/><circle cx="505.44" cy="451.86" r="3.15"/><circle cx="507.3" cy="450.34" r="3.15"/><circle cx="503.42" cy="455.29" r="3.15"/></g>
<g fill="#000000" fill-opacity="0.8"><circle cx="516.6" cy="391.2" r="3.15"/><circle cx="510.25" cy="420.6" r="3.15"/><circle cx="521.3" cy="425.3" r="3.15"/><circle cx="517.9" cy="430.6" r="3.15"/><circle cx="495.4" cy="427.75" r="3.15"/><circle cx="497.9" cy="435.25" r="3.15"/><circle cx="493.2" cy="438" r="3.15"/><circle cx="508.4" cy="435.6" r="3.15"/><circle cx="509.1" cy="439.4" r="3.15"/><circle cx="494.1" cy="446.9" r="3.15"/><circle cx="490.4" cy="449.7" r="3.15"/><circle cx="508.75" cy="447.8" r="3.15"/><circle cx="521.3" cy="451.6" r="3.15"/></g>
<path d="M520 548.4 L520.5 461.1 L521.82 460.53 L523.19 460.61 L525.54 460.06 L527.19 458.46 L528.92 457.34 L530.21 456.66 L532.74 454.95 L534.66 460.24 L536.61 461.02 L539.17 465.7 L540.62 465.82 L542.17 470.17 L543.41 466.98 L545.59 467.48 L546.82 469.5 L548.82 465.47 L551.01 461.01 L553.43 464.6 L554.69 463.14 L556.58 466 L557 466 L557 548.4Z" fill="#0000ff"/>
<g fill="#0000ff" fill-opacity="0.8"><circle cx="523.26" cy="460.2" r="3.15"/><circle cx="524.13" cy="457.52" r="3.15"/><circle cx="527.29" cy="458.29" r="3.15"/><circle cx="527.83" cy="455.95" r="3.15"/><circle cx="527.29" cy="453.4" r="3.15"/><circle cx="527.75" cy="450.02" r="3.15"/><circle cx="527.11" cy="447.84" r="3.15"/><circle cx="527.34" cy="445.67" r="3.15"/><circle cx="532.35" cy="454.17" r="3.15"/><circle cx="531.74" cy="452.17" r="3.15"/><circle cx="531.67" cy="449.4" r="3.15"/><circle cx="531.31" cy="446.84" r="3.15"/><circle cx="535.81" cy="462.52" r="3.15"/><circle cx="535.52" cy="460.95" r="3.15"/><circle cx="535.56" cy="458.92" r="3.15"/><circle cx="535.4" cy="456.87" r="3.15"/><circle cx="535.49" cy="453.52" r="3.15"/><circle cx="535.37" cy="451.52" r="3.15"/><circle cx="535.89" cy="449.15" r="3.15"/><circle cx="538.38" cy="466.89" r="3.15"/><circle cx="538.28" cy="463.48" r="3.15"/><circle cx="538.22" cy="461.44" r="3.15"/><circle cx="537.84" cy="458.88" r="3.15"/><circle cx="537.82" cy="457.13" r="3.15"/><circle cx="538.15" cy="455.04" r="3.15"/><circle cx="541.4" cy="469" r="3.15"/><circle cx="544.96" cy="470" r="3.15"/><circle cx="544.76" cy="467.58" r="3.15"/><circle cx="544.67" cy="464.85" r="3.15"/><circle cx="544.39" cy="462.73" r="3.15"/><circle cx="544.72" cy="460.79" r="3.15"/><circle cx="544.81" cy="458.52" r="3.15"/><circle cx="547.5" cy="468.48" r="3.15"/><circle cx="547.52" cy="465" r="3.15"/><circle cx="547.35" cy="461.96" r="3.15"/><circle cx="548.21" cy="460.33" r="3.15"/><circle cx="550.23" cy="464.11" r="3.15"/><circle cx="549.62" cy="462.39" r="3.15"/><circle cx="550.23" cy="458.97" r="3.15"/><circle cx="553.1" cy="464" r="3.15"/><circle cx="553.34" cy="460.8" r="3.15"/><circle cx="553.24" cy="458.26" r="3.15"/><circle cx="549.97" cy="451.93" r="3.15"/><circle cx="553.66" cy="449.85" r="3.15"/><circle cx="536.22" cy="447.66" r="3.15"/><circle cx="528.93" cy="445.14" r="3.15"/><circle cx="536.99" cy="452.69" r="3.15"/><circle cx="544.95" cy="455.84" r="3.15"/></g>
<g fill="#0000ff" fill-opacity="0.8"><circle cx="525" cy="438" r="3.15"/><circle cx="532" cy="399.6" r="3.15"/><circle cx="549.8" cy="414.6" r="3.15"/><circle cx="532" cy="421.6" r="3.15"/><circle cx="532" cy="425.3" r="3.15"/><circle cx="532" cy="433.75" r="3.15"/><circle cx="547.6" cy="437.5" r="3.15"/><circle cx="543.8" cy="439.75" r="3.15"/><circle cx="537.25" cy="440" r="3.15"/><circle cx="527" cy="437.5" r="3.15"/><circle cx="529.4" cy="443.5" r="3.15"/><circle cx="550.4" cy="449.7" r="3.15"/><circle cx="542.5" cy="450.6" r="3.15"/><circle cx="532.5" cy="450.6" r="3.15"/><circle cx="548.25" cy="222.9" r="3.15"/><circle cx="554.6" cy="305.6" r="3.15"/></g>
<path d="M553 548.4 L554.5 466.88 L555.3 468.04 L557.78 461.49 L560.2 457.59 L562.47 461.39 L564.37 466.05 L566.37 467.33 L568.67 471.7 L570.72 470.26 L572.55 468.85 L574.76 465.26 L576.51 466.78 L578.25 465.45 L580.55 461.95 L582.45 460.17 L583.91 461.23 L585.31 464.46 L587.32 463.82 L589.81 466.12 L592.19 468.69 L593.7 467 L593.7 548.4Z" fill="#000000"/>
<g fill="#000000" fill-opacity="0.8"><circle cx="558.19" cy="464.48" r="3.15"/><circle cx="557.16" cy="462.96" r="3.15"/><circle cx="561.21" cy="460.26" r="3.15"/><circle cx="561.41" cy="457.72" r="3.15"/><circle cx="561.02" cy="455.44" r="3.15"/><circle cx="561.01" cy="452.75" r="3.15"/><circle cx="565.07" cy="466.44" r="3.15"/><circle cx="565.3" cy="464.14" r="3.15"/><circle cx="565.68" cy="461.49" r="3.15"/><circle cx="565.21" cy="458.06" r="3.15"/><circle cx="568.7" cy="471.05" r="3.15"/><circle cx="569.67" cy="468.91" r="3.15"/><circle cx="569.11" cy="465.76" r="3.15"/><circle cx="569.57" cy="464.04" r="3.15"/><circle cx="573.3" cy="468.8" r="3.15"/><circle cx="573.56" cy="466.28" r="3.15"/><circle cx="573.18" cy="464.4" r="3.15"/><circle cx="573.68" cy="461.64" r="3.15"/><circle cx="578.43" cy="466.56" r="3.15"/><circle cx="578.31" cy="463.49" r="3.15"/><circle cx="577.94" cy="460.61" r="3.15"/><circle cx="578.95" cy="458.5" r="3.15"/><circle cx="578.74" cy="455.83" r="3.15"/><circle cx="582.21" cy="461.03" r="3.15"/><circle cx="582.63" cy="458.47" r="3.15"/><circle cx="581.93" cy="455.82" r="3.15"/><circle cx="581.62" cy="454.08" r="3.15"/><circle cx="581.56" cy="451.06" r="3.15"/><circle cx="584.68" cy="464.06" r="3.15"/><circle cx="584.02" cy="460.94" r="3.15"/><circle cx="584.87" cy="459.42" r="3.15"/><circle cx="584.8" cy="457.27" r="3.15"/><circle cx="584.15" cy="455.07" r="3.15"/><circle cx="586.7" cy="466.56" r="3.15"/><circle cx="587.31" cy="464.95" r="3.15"/><circle cx="587.39" cy="462.29" r="3.15"/><circle cx="591.22" cy="468" r="3.15"/><circle cx="590.48" cy="464.79" r="3.15"/><circle cx="574.2" cy="451.34" r="3.15"/><circle cx="579.01" cy="448.32" r="3.15"/><circle cx="588.81" cy="450.35" r="3.15"/><circle cx="563.14" cy="450.65" r="3.15"/><circle cx="573.28" cy="455.25" r="3.15"/><circle cx="590.91" cy="450.71" r="3.15"/></g>
<g fill="#000000" fill-opacity="0.8"><circle cx="562" cy="410.7" r="3.15"/><circle cx="562" cy="423.8" r="3.15"/><circle cx="562" cy="430" r="3.15"/><circle cx="563.5" cy="430" r="3.15"/><circle cx="561.25" cy="437.9" r="3.15"/><circle cx="566.3" cy="440.7" r="3.15"/><circle cx="559.75" cy="445" r="3.15"/><circle cx="564.4" cy="448.75" r="3.15"/><circle cx="575.1" cy="446.9" r="3.15"/><circle cx="587.3" cy="405" r="3.15"/><circle cx="587.3" cy="416" r="3.15"/><circle cx="587.3" cy="419.7" r="3.15"/><circle cx="586.9" cy="426.25" r="3.15"/><circle cx="580.9" cy="428.5" r="3.15"/><circle cx="586.9" cy="430" r="3.15"/><circle cx="582.25" cy="433.4" r="3.15"/><circle cx="586.9" cy="433.75" r="3.15"/><circle cx="580.9" cy="441.25" r="3.15"/><circle cx="581.7" cy="445" r="3.15"/><circle cx="586" cy="447.8" r="3.15"/></g>
<path d="M591 548.4 L591.2 462.02 L593.04 461.21 L594.94 458.78 L596.48 455.21 L598.68 454.52 L600.32 459.96 L602.19 465.24 L603.74 465.86 L605.44 467.06 L608 469.28 L609.98 466.45 L611.93 462.61 L613.69 455.74 L615.07 456.49 L616.76 453.24 L618.23 456.37 L619.76 459.71 L621.89 462.21 L622.8 463 L622.8 548.4Z" fill="#0000ff"/>
<g fill="#0000ff" fill-opacity="0.8"><circle cx="593.95" cy="457.8" r="3.15"/><circle cx="594.8" cy="455.41" r="3.15"/><circle cx="596.73" cy="456.56" r="3.15"/><circle cx="596.53" cy="453.14" r="3.15"/><circle cx="599.95" cy="459.19" r="3.15"/><circle cx="600.11" cy="456.28" r="3.15"/><circle cx="604.28" cy="468.77" r="3.15"/><circle cx="604.6" cy="466.84" r="3.15"/><circle cx="604.17" cy="465.1" r="3.15"/><circle cx="603.88" cy="462.51" r="3.15"/><circle cx="607.08" cy="470.87" r="3.15"/><circle cx="606.81" cy="468.59" r="3.15"/><circle cx="607.73" cy="466.74" r="3.15"/><circle cx="607.5" cy="464.6" r="3.15"/><circle cx="607.38" cy="462.88" r="3.15"/><circle cx="607.31" cy="460.66" r="3.15"/><circle cx="606.79" cy="458.56" r="3.15"/><circle cx="609.73" cy="469.36" r="3.15"/><circle cx="610.48" cy="467.06" r="3.15"/><circle cx="614.46" cy="456.73" r="3.15"/><circle cx="614.83" cy="454.4" r="3.15"/><circle cx="614.33" cy="451.5" r="3.15"/><circle cx="614.46" cy="448.31" r="3.15"/><circle cx="614.25" cy="445.55" r="3.15"/><circle cx="615.13" cy="443.82" r="3.15"/><circle cx="618.54" cy="459.55" r="3.15"/><circle cx="618.22" cy="457.29" r="3.15"/><circle cx="622.77" cy="464" r="3.15"/><circle cx="622.4" cy="461.07" r="3.15"/><circle cx="595.03" cy="438.81" r="3.15"/><circle cx="613.77" cy="448.52" r="3.15"/><circle cx="609.1" cy="459.34" r="3.15"/><circle cx="618.1" cy="439.66" r="3.15"/><circle cx="602.37" cy="449.51" r="3.15"/></g>
<g fill="#0000ff" fill-opacity="0.8"><circle cx="598.75" cy="410" r="3.15"/><circle cx="598.75" cy="414" r="3.15"/><circle cx="598.75" cy="418.75" r="3.15"/><circle cx="598.75" cy="432.8" r="3.15"/><circle cx="597.25" cy="440.3" r="3.15"/><circle cx="593.9" cy="442.2" r="3.15"/><circle cx="599.1" cy="444" r="3.15"/><circle cx="612.6" cy="409.4" r="3.15"/><circle cx="615.6" cy="421.6" r="3.15"/><circle cx="615.6" cy="424.75" r="3.15"/><circle cx="615.6" cy="429" r="3.15"/><circle cx="615.6" cy="434.1" r="3.15"/><circle cx="611.3" cy="439.4" r="3.15"/><circle cx="615.6" cy="440.3" r="3.15"/><circle cx="615.6" cy="446" r="3.15"/><circle cx="614.1" cy="450.6" r="3.15"/><circle cx="607" cy="446.9" r="3.15"/><circle cx="607.6" cy="453.4" r="3.15"/><circle cx="602.9" cy="455.3" r="3.15"/></g>
<path d="M619 548.4 L620.3 462.25 L620.2 464.54 L622.49 460.27 L623.75 463.77 L625.8 462.47 L627.34 459.48 L629.65 455.88 L632.13 459.81 L633.45 459.52 L635.2 458.04 L637.56 454.13 L638.89 456.79 L640.68 457.29 L642.85 459.94 L645.21 468.27 L647.04 470.77 L649.22 472.64 L649.5 473 L649.5 548.4Z" fill="#000000"/>
<g fill="#000000" fill-opacity="0.8"><circle cx="623.21" cy="462.67" r="3.15"/><circle cx="624.06" cy="460.07" r="3.15"/><circle cx="623.55" cy="457.3" r="3.15"/><circle cx="622.97" cy="455.3" r="3.15"/><circle cx="623.39" cy="453.08" r="3.15"/><circle cx="623.27" cy="451.18" r="3.15"/><circle cx="623.75" cy="449.41" r="3.15"/><circle cx="626.15" cy="465.43" r="3.15"/><circle cx="626.04" cy="462.06" r="3.15"/><circle cx="630.67" cy="458.93" r="3.15"/><circle cx="630.93" cy="455.8" r="3.15"/><circle cx="633.33" cy="459.62" r="3.15"/><circle cx="633.77" cy="456.59" r="3.15"/><circle cx="633.12" cy="454.86" r="3.15"/><circle cx="633.02" cy="452.64" r="3.15"/><circle cx="633.11" cy="451.02" r="3.15"/><circle cx="633.62" cy="449.13" r="3.15"/><circle cx="632.91" cy="446.73" r="3.15"/><circle cx="636.27" cy="456.61" r="3.15"/><circle cx="637.37" cy="455.09" r="3.15"/><circle cx="636.28" cy="452.09" r="3.15"/><circle cx="641.71" cy="457.87" r="3.15"/><circle cx="641.35" cy="455.5" r="3.15"/><circle cx="641.13" cy="452.92" r="3.15"/><circle cx="641.9" cy="449.58" r="3.15"/><circle cx="646.22" cy="472.58" r="3.15"/><circle cx="645.96" cy="470.81" r="3.15"/><circle cx="646.94" cy="467.76" r="3.15"/><circle cx="646.15" cy="465.66" r="3.15"/><circle cx="646.94" cy="462.89" r="3.15"/><circle cx="649.32" cy="474" r="3.15"/><circle cx="648.65" cy="471.85" r="3.15"/><circle cx="648.82" cy="468.7" r="3.15"/><circle cx="649.09" cy="466.46" r="3.15"/><circle cx="649.43" cy="464.22" r="3.15"/><circle cx="648.48" cy="462.24" r="3.15"/><circle cx="649.19" cy="459.61" r="3.15"/><circle cx="629.25" cy="447.15" r="3.15"/><circle cx="639.75" cy="442.69" r="3.15"/><circle cx="638.72" cy="444.1" r="3.15"/><circle cx="647.53" cy="457.25" r="3.15"/></g>
<g fill="#000000" fill-opacity="0.8"><circle cx="629.1" cy="397.75" r="3.15"/><circle cx="640.4" cy="413.1" r="3.15"/><circle cx="629.1" cy="419.1" r="3.15"/><circle cx="628.75" cy="423.4" r="3.15"/><circle cx="631.9" cy="428.5" r="3.15"/><circle cx="629.1" cy="431" r="3.15"/><circle cx="623.9" cy="432.8" r="3.15"/><circle cx="640.4" cy="441.25" r="3.15"/><circle cx="635.7" cy="444" r="3.15"/><circle cx="629.1" cy="445" r="3.15"/><circle cx="643.2" cy="447.8" r="3.15"/><circle cx="622.6" cy="447.8" r="3.15"/></g>
<path d="M646 548.4 L647 470.03 L648.52 462.9 L650.42 455.72 L652.04 455.68 L653.35 454.47 L654.78 451.34 L657.34 451.52 L658.6 456.62 L660.06 460.53 L661.27 462.73 L663.67 455.11 L665.46 447.99 L667.59 450.07 L669.38 449.19 L669.7 450 L669.7 548.4Z" fill="#0000ff"/>
<g fill="#0000ff" fill-opacity="0.8"><circle cx="650.68" cy="458.73" r="3.15"/><circle cx="649.95" cy="456.9" r="3.15"/><circle cx="650.28" cy="454.52" r="3.15"/><circle cx="649.83" cy="452.32" r="3.15"/><circle cx="649.99" cy="450.65" r="3.15"/><circle cx="650.77" cy="448.23" r="3.15"/><circle cx="654.27" cy="452.6" r="3.15"/><circle cx="654.93" cy="449.75" r="3.15"/><circle cx="654.88" cy="447.66" r="3.15"/><circle cx="654.77" cy="444.25" r="3.15"/><circle cx="654.56" cy="441.46" r="3.15"/><circle cx="659.67" cy="459.6" r="3.15"/><circle cx="661.8" cy="462.61" r="3.15"/><circle cx="661.74" cy="460.28" r="3.15"/><circle cx="661.58" cy="457.65" r="3.15"/><circle cx="661.32" cy="455.92" r="3.15"/><circle cx="661.76" cy="452.64" r="3.15"/><circle cx="662.14" cy="450.91" r="3.15"/><circle cx="663.98" cy="453.04" r="3.15"/><circle cx="663.66" cy="450.43" r="3.15"/><circle cx="663.53" cy="447.79" r="3.15"/><circle cx="664.1" cy="445.26" r="3.15"/><circle cx="663.88" cy="443.6" r="3.15"/><circle cx="666.85" cy="450.87" r="3.15"/><circle cx="667.58" cy="447.39" r="3.15"/><circle cx="667.71" cy="445.69" r="3.15"/><circle cx="666.92" cy="443.4" r="3.15"/><circle cx="667.39" cy="439.98" r="3.15"/><circle cx="666.87" cy="436.93" r="3.15"/><circle cx="668.9" cy="451" r="3.15"/><circle cx="669.14" cy="448.31" r="3.15"/><circle cx="666.31" cy="437.47" r="3.15"/><circle cx="652.06" cy="445.13" r="3.15"/></g>
<g fill="#0000ff" fill-opacity="0.8"><circle cx="649.5" cy="436" r="3.15"/><circle cx="650.5" cy="441" r="3.15"/><circle cx="652" cy="444.5" r="3.15"/><circle cx="663" cy="436" r="3.15"/><circle cx="665.5" cy="436.5" r="3.15"/><circle cx="664" cy="443" r="3.15"/><circle cx="666" cy="446" r="3.15"/><circle cx="661.5" cy="440" r="3.15"/><circle cx="650.7" cy="431" r="3.15"/><circle cx="654.4" cy="433.75" r="3.15"/><circle cx="661" cy="432.25" r="3.15"/><circle cx="666.25" cy="431" r="3.15"/><circle cx="655.4" cy="438.4" r="3.15"/><circle cx="664.75" cy="439.4" r="3.15"/><circle cx="651.6" cy="446" r="3.15"/><circle cx="657.25" cy="446.9" r="3.15"/></g>
<path d="M666 548.4 L667.2 458.63 L668.44 459.2 L670.87 459.18 L673.35 463.41 L674.78 465.08 L676.46 468.89 L678.62 470.63 L679.99 465.44 L682.22 462.49 L684.43 455.76 L686.48 455.34 L688.44 460.29 L689.8 461.13 L691.4 459 L691.4 548.4Z" fill="#000000"/>
<g fill="#000000" fill-opacity="0.8"><circle cx="670.34" cy="459.4" r="3.15"/><circle cx="670.5" cy="456.22" r="3.15"/><circle cx="672.09" cy="461.46" r="3.15"/><circle cx="672.21" cy="458.85" r="3.15"/><circle cx="675.65" cy="466.28" r="3.15"/><circle cx="675.98" cy="463.4" r="3.15"/><circle cx="677.65" cy="470" r="3.15"/><circle cx="678.01" cy="466.75" r="3.15"/><circle cx="677.27" cy="465.18" r="3.15"/><circle cx="681.28" cy="462.1" r="3.15"/><circle cx="681.56" cy="458.91" r="3.15"/><circle cx="681.82" cy="455.67" r="3.15"/><circle cx="684.78" cy="458.88" r="3.15"/><circle cx="684.28" cy="457.3" r="3.15"/><circle cx="684.63" cy="455.08" r="3.15"/><circle cx="687.26" cy="459.34" r="3.15"/><circle cx="688.42" cy="456.92" r="3.15"/><circle cx="687.41" cy="455.33" r="3.15"/><circle cx="687.56" cy="452.48" r="3.15"/><circle cx="687.84" cy="450.44" r="3.15"/><circle cx="686.38" cy="442.28" r="3.15"/><circle cx="684.43" cy="448.96" r="3.15"/><circle cx="682.93" cy="442.73" r="3.15"/></g>
<path d="M677 452 L679.2 452 L679 462 L678.8 472 L678.5 481 L678.1 481 L677.7 472 L677.2 462Z" fill="#fff"/>
<g fill="#000000" fill-opacity="0.8"><circle cx="670.75" cy="399" r="3.15"/><circle cx="670.75" cy="402.25" r="3.15"/><circle cx="670.75" cy="406" r="3.15"/><circle cx="670.75" cy="411.25" r="3.15"/><circle cx="680.4" cy="420.6" r="3.15"/><circle cx="688.8" cy="392.9" r="3.15"/><circle cx="688.2" cy="428" r="3.15"/><circle cx="688.6" cy="428.3" r="3.15"/><circle cx="683.75" cy="428.5" r="3.15"/><circle cx="670" cy="432.8" r="3.15"/><circle cx="670.6" cy="440.3" r="3.15"/><circle cx="682.25" cy="440.7" r="3.15"/><circle cx="688.4" cy="441.25" r="3.15"/><circle cx="688.4" cy="445.4" r="3.15"/><circle cx="669.7" cy="450.6" r="3.15"/></g>
<path d="M688 548.4 L688.9 463.14 L690.54 467.11 L691.79 466.11 L694.07 468.55 L696.35 465.86 L698.44 461 L700.03 458.52 L702.46 462.47 L704.61 458.95 L706.88 459.56 L708.79 457.68 L710.48 457.25 L711.3 457 L711.3 548.4Z" fill="#0000ff"/>
<g fill="#0000ff" fill-opacity="0.8"><circle cx="691.89" cy="467.03" r="3.15"/><circle cx="695.23" cy="467.27" r="3.15"/><circle cx="695.11" cy="465.08" r="3.15"/><circle cx="695.99" cy="463.56" r="3.15"/><circle cx="695.48" cy="461.15" r="3.15"/><circle cx="698.21" cy="462.65" r="3.15"/><circle cx="698.72" cy="460.53" r="3.15"/><circle cx="703.36" cy="461.82" r="3.15"/><circle cx="702.88" cy="460.16" r="3.15"/><circle cx="703.85" cy="457.5" r="3.15"/><circle cx="707.07" cy="458.85" r="3.15"/><circle cx="708.07" cy="456.38" r="3.15"/><circle cx="707.3" cy="454.32" r="3.15"/><circle cx="707.18" cy="452.78" r="3.15"/><circle cx="696.2" cy="454.76" r="3.15"/><circle cx="699.06" cy="449.24" r="3.15"/><circle cx="699.18" cy="449.29" r="3.15"/></g>
<g fill="#0000ff" fill-opacity="0.8"><circle cx="693.5" cy="395.3" r="3.15"/><circle cx="693.1" cy="436.6" r="3.15"/><circle cx="706.8" cy="434.1" r="3.15"/><circle cx="702.1" cy="439.4" r="3.15"/><circle cx="707.2" cy="440.3" r="3.15"/><circle cx="699.7" cy="445" r="3.15"/><circle cx="700.6" cy="449.7" r="3.15"/><circle cx="708.1" cy="448.75" r="3.15"/></g>
<path d="M707 548.4 L708.5 462.59 L708.76 462.51 L710.8 467.08 L712.91 465.7 L715.14 471.9 L717.18 461.36 L719.51 458.85 L721.19 452.75 L722.65 459.15 L725.08 462.78 L727.57 459.2 L729.23 461.25 L730.1 460 L730.1 548.4Z" fill="#000000"/>
<g fill="#000000" fill-opacity="0.8"><circle cx="711.81" cy="467" r="3.15"/><circle cx="711.9" cy="465.39" r="3.15"/><circle cx="712.15" cy="463.79" r="3.15"/><circle cx="711.99" cy="461.63" r="3.15"/><circle cx="715.28" cy="470.69" r="3.15"/><circle cx="715.36" cy="468.07" r="3.15"/><circle cx="714.91" cy="466.45" r="3.15"/><circle cx="714.57" cy="463.51" r="3.15"/><circle cx="716.75" cy="464.28" r="3.15"/><circle cx="717.15" cy="461.15" r="3.15"/><circle cx="721.13" cy="455.02" r="3.15"/><circle cx="721.29" cy="452.85" r="3.15"/><circle cx="721.26" cy="450.84" r="3.15"/><circle cx="721.34" cy="447.81" r="3.15"/><circle cx="721.33" cy="445.69" r="3.15"/><circle cx="724.89" cy="462.36" r="3.15"/><circle cx="723.78" cy="460.6" r="3.15"/><circle cx="724.55" cy="458.15" r="3.15"/><circle cx="726.92" cy="461.82" r="3.15"/><circle cx="723.74" cy="449.92" r="3.15"/><circle cx="713.46" cy="455.33" r="3.15"/><circle cx="724.7" cy="449.67" r="3.15"/></g>
<g fill="#000000" fill-opacity="0.8"><circle cx="712.9" cy="409.75" r="3.15"/><circle cx="728.4" cy="406" r="3.15"/><circle cx="721" cy="420.25" r="3.15"/><circle cx="720.9" cy="425" r="3.15"/><circle cx="718.4" cy="426.6" r="3.15"/><circle cx="720.9" cy="434.7" r="3.15"/><circle cx="714.1" cy="435.25" r="3.15"/><circle cx="712.25" cy="439.4" r="3.15"/><circle cx="720.9" cy="439.4" r="3.15"/><circle cx="720.9" cy="445" r="3.15"/><circle cx="720.9" cy="449.7" r="3.15"/><circle cx="728.75" cy="450.6" r="3.15"/><circle cx="713.75" cy="454.4" r="3.15"/></g>
<path d="M727 548.4 L727.6 467.41 L729.52 469.17 L730.92 468.08 L733.16 471.26 L734.58 468.23 L736.87 467.92 L739.45 467.03 L741.54 471.61 L743.86 473.8 L745.3 474 L745.3 548.4Z" fill="#0000ff"/>
<g fill="#0000ff" fill-opacity="0.8"><circle cx="731.24" cy="470.73" r="3.15"/><circle cx="730.88" cy="469.11" r="3.15"/><circle cx="731.3" cy="466.79" r="3.15"/><circle cx="730.95" cy="463.4" r="3.15"/><circle cx="730.5" cy="461.46" r="3.15"/><circle cx="730.72" cy="459.43" r="3.15"/><circle cx="733.17" cy="470.41" r="3.15"/><circle cx="733.07" cy="466.92" r="3.15"/><circle cx="733" cy="464.28" r="3.15"/><circle cx="733.85" cy="461.06" r="3.15"/><circle cx="733.71" cy="459.02" r="3.15"/><circle cx="733.15" cy="455.88" r="3.15"/><circle cx="736.81" cy="470.23" r="3.15"/><circle cx="737.33" cy="467.57" r="3.15"/><circle cx="737.33" cy="465.65" r="3.15"/><circle cx="737.2" cy="463.43" r="3.15"/><circle cx="736.49" cy="460.2" r="3.15"/><circle cx="737.46" cy="456.97" r="3.15"/><circle cx="738.35" cy="466.41" r="3.15"/><circle cx="740.9" cy="473.29" r="3.15"/><circle cx="741.89" cy="471.11" r="3.15"/><circle cx="742.83" cy="462.53" r="3.15"/><circle cx="740.95" cy="457.45" r="3.15"/></g>
<g fill="#0000ff" fill-opacity="0.8"><circle cx="736.9" cy="423.1" r="3.15"/><circle cx="738.5" cy="429.6" r="3.15"/><circle cx="740" cy="435.6" r="3.15"/><circle cx="731.9" cy="439.4" r="3.15"/><circle cx="740" cy="440.3" r="3.15"/><circle cx="738.1" cy="446" r="3.15"/><circle cx="738.1" cy="454.4" r="3.15"/></g>
<path d="M741 548.4 L742.5 462.4 L742.25 458.67 L744.56 457.66 L745.81 457.1 L747.33 458.76 L748.68 458.51 L751.27 462.73 L753.7 458.51 L755.58 456.07 L757.38 454.77 L759.54 457.2 L761.77 462 L763.13 461.27 L763.3 462 L763.3 548.4Z" fill="#000000"/>
<g fill="#000000" fill-opacity="0.8"><circle cx="746.46" cy="458.33" r="3.15"/><circle cx="745.73" cy="455.37" r="3.15"/><circle cx="748.86" cy="462.06" r="3.15"/><circle cx="748.21" cy="459.83" r="3.15"/><circle cx="748.98" cy="456.96" r="3.15"/><circle cx="748.85" cy="454.37" r="3.15"/><circle cx="753.62" cy="461.35" r="3.15"/><circle cx="753.64" cy="459.21" r="3.15"/><circle cx="753.61" cy="455.76" r="3.15"/><circle cx="753.63" cy="453.49" r="3.15"/><circle cx="754.34" cy="451.71" r="3.15"/><circle cx="753.87" cy="450.2" r="3.15"/><circle cx="753.45" cy="446.84" r="3.15"/><circle cx="756.41" cy="457.17" r="3.15"/><circle cx="757.21" cy="453.98" r="3.15"/><circle cx="759.2" cy="459.04" r="3.15"/><circle cx="758.8" cy="456.44" r="3.15"/><circle cx="758.42" cy="453" r="3.15"/><circle cx="759.44" cy="450" r="3.15"/><circle cx="759.13" cy="447.48" r="3.15"/><circle cx="761.58" cy="463" r="3.15"/><circle cx="761.6" cy="460.08" r="3.15"/><circle cx="761.86" cy="457.52" r="3.15"/><circle cx="761.51" cy="454.67" r="3.15"/><circle cx="761.78" cy="451.91" r="3.15"/><circle cx="754.04" cy="449.06" r="3.15"/><circle cx="761.05" cy="446.29" r="3.15"/><circle cx="755.23" cy="439.95" r="3.15"/></g>
<g fill="#000000" fill-opacity="0.8"><circle cx="756.25" cy="408.75" r="3.15"/><circle cx="754.4" cy="430.6" r="3.15"/><circle cx="758.4" cy="435.25" r="3.15"/><circle cx="745.1" cy="439.4" r="3.15"/><circle cx="755" cy="441.25" r="3.15"/><circle cx="746.6" cy="445.4" r="3.15"/><circle cx="757.8" cy="446" r="3.15"/><circle cx="752.75" cy="376.9" r="3.15"/></g>
<path d="M759.6 548.4 L760.8 465.82 L762.07 462.81 L764.28 462.24 L766.15 467.71 L767.55 472.17 L769.49 470.63 L771.43 470.88 L772.96 468.79 L775.31 470.8 L776.25 471 L776.25 548.4Z" fill="#0000ff"/>
<g fill="#0000ff" fill-opacity="0.8"><circle cx="764.44" cy="462" r="3.15"/><circle cx="763.86" cy="460.41" r="3.15"/><circle cx="764.38" cy="457.25" r="3.15"/><circle cx="763.58" cy="455.5" r="3.15"/><circle cx="763.52" cy="453.5" r="3.15"/><circle cx="764.36" cy="451.29" r="3.15"/><circle cx="763.94" cy="448.74" r="3.15"/><circle cx="763.87" cy="447.07" r="3.15"/><circle cx="768.44" cy="471.39" r="3.15"/><circle cx="767.66" cy="468.37" r="3.15"/><circle cx="767.93" cy="465.51" r="3.15"/><circle cx="770.66" cy="470.2" r="3.15"/><circle cx="770.44" cy="468.67" r="3.15"/><circle cx="770.27" cy="466.03" r="3.15"/><circle cx="771.06" cy="464.17" r="3.15"/><circle cx="773.28" cy="472" r="3.15"/><circle cx="774.2" cy="469.23" r="3.15"/><circle cx="764.76" cy="449.19" r="3.15"/><circle cx="768.16" cy="452.29" r="3.15"/></g>
<g fill="#0000ff" fill-opacity="0.8"><circle cx="763.5" cy="397.9" r="3.15"/><circle cx="763.5" cy="414.4" r="3.15"/><circle cx="763.5" cy="418.75" r="3.15"/><circle cx="763.4" cy="445" r="3.15"/><circle cx="763.4" cy="450.6" r="3.15"/><circle cx="771" cy="454.4" r="3.15"/><circle cx="770" cy="462" r="3.15"/></g>
<path d="M772 548.4 L773.5 467.46 L774.07 464.87 L775.33 463.29 L777.04 462.09 L778.65 461.64 L780.76 464.55 L782.45 462.43 L784.46 465.12 L785.93 465.36 L787 463 L787 548.4Z" fill="#000000"/>
<g fill="#000000" fill-opacity="0.8"><circle cx="776.75" cy="462.08" r="3.15"/><circle cx="777.26" cy="460.44" r="3.15"/><circle cx="776.98" cy="458.18" r="3.15"/><circle cx="777.43" cy="455.68" r="3.15"/><circle cx="778.98" cy="463.35" r="3.15"/><circle cx="778.92" cy="460.17" r="3.15"/><circle cx="779.5" cy="457.72" r="3.15"/><circle cx="779.02" cy="455.35" r="3.15"/><circle cx="779.42" cy="452.82" r="3.15"/><circle cx="783.46" cy="464" r="3.15"/><circle cx="783.57" cy="461.39" r="3.15"/><circle cx="782.79" cy="458.35" r="3.15"/><circle cx="785.56" cy="464" r="3.15"/><circle cx="785.7" cy="462.39" r="3.15"/><circle cx="781.21" cy="448.03" r="3.15"/></g>
<g fill="#000000" fill-opacity="0.8"><circle cx="780" cy="404.4" r="3.15"/><circle cx="782.5" cy="420.6" r="3.15"/><circle cx="782.2" cy="431.9" r="3.15"/><circle cx="777.9" cy="433.75" r="3.15"/><circle cx="782.2" cy="446.9" r="3.15"/><circle cx="776.6" cy="447.8" r="3.15"/></g>
</g>
<g stroke="#000" stroke-width="0.69" stroke-dasharray="1.39 4.17" fill="none"><path d="M80.4 486.9 H784.6"/><path d="M80.4 427.4 H784.6"/><path d="M80.4 367.9 H784.6"/><path d="M80.4 308.4 H784.6"/><path d="M80.4 248.9 H784.6"/><path d="M80.4 189.4 H784.6"/><path d="M80.4 129.9 H784.6"/><path d="M80.4 70.4 H784.6"/><path d="M111.2 546.85 V36.4"/><path d="M171.4 546.85 V36.4"/><path d="M225.4 546.85 V36.4"/><path d="M272.5 546.85 V36.4"/><path d="M318.5 546.85 V36.4"/><path d="M361.5 546.85 V36.4"/><path d="M401.4 546.85 V36.4"/><path d="M438.3 546.85 V36.4"/><path d="M473.4 546.85 V36.4"/><path d="M507.6 546.85 V36.4"/><path d="M540.5 546.85 V36.4"/><path d="M573.5 546.85 V36.4"/><path d="M606.6 546.85 V36.4"/><path d="M633.6 546.85 V36.4"/><path d="M659.4 546.85 V36.4"/><path d="M680.4 546.85 V36.4"/><path d="M701.5 546.85 V36.4"/><path d="M720.5 546.85 V36.4"/><path d="M737.5 546.85 V36.4"/><path d="M752.5 546.85 V36.4"/><path d="M767.5 546.85 V36.4"/><path d="M780.6 546.85 V36.4"/></g>
<g stroke="#000" stroke-width="0.69" fill="none"><path d="M80.4 546.4 h5.56 M784.6 546.4 h-5.56"/><path d="M80.4 486.9 h5.56 M784.6 486.9 h-5.56"/><path d="M80.4 427.4 h5.56 M784.6 427.4 h-5.56"/><path d="M80.4 367.9 h5.56 M784.6 367.9 h-5.56"/><path d="M80.4 308.4 h5.56 M784.6 308.4 h-5.56"/><path d="M80.4 248.9 h5.56 M784.6 248.9 h-5.56"/><path d="M80.4 189.4 h5.56 M784.6 189.4 h-5.56"/><path d="M80.4 129.9 h5.56 M784.6 129.9 h-5.56"/><path d="M80.4 70.4 h5.56 M784.6 70.4 h-5.56"/><path d="M111.2 546.4 v-5.56 M111.2 36.4 v5.56"/><path d="M171.4 546.4 v-5.56 M171.4 36.4 v5.56"/><path d="M225.4 546.4 v-5.56 M225.4 36.4 v5.56"/><path d="M272.5 546.4 v-5.56 M272.5 36.4 v5.56"/><path d="M318.5 546.4 v-5.56 M318.5 36.4 v5.56"/><path d="M361.5 546.4 v-5.56 M361.5 36.4 v5.56"/><path d="M401.4 546.4 v-5.56 M401.4 36.4 v5.56"/><path d="M438.3 546.4 v-5.56 M438.3 36.4 v5.56"/><path d="M473.4 546.4 v-5.56 M473.4 36.4 v5.56"/><path d="M507.6 546.4 v-5.56 M507.6 36.4 v5.56"/><path d="M540.5 546.4 v-5.56 M540.5 36.4 v5.56"/><path d="M573.5 546.4 v-5.56 M573.5 36.4 v5.56"/><path d="M606.6 546.4 v-5.56 M606.6 36.4 v5.56"/><path d="M633.6 546.4 v-5.56 M633.6 36.4 v5.56"/><path d="M659.4 546.4 v-5.56 M659.4 36.4 v5.56"/><path d="M680.4 546.4 v-5.56 M680.4 36.4 v5.56"/><path d="M701.5 546.4 v-5.56 M701.5 36.4 v5.56"/><path d="M720.5 546.4 v-5.56 M720.5 36.4 v5.56"/><path d="M737.5 546.4 v-5.56 M737.5 36.4 v5.56"/><path d="M752.5 546.4 v-5.56 M752.5 36.4 v5.56"/><path d="M767.5 546.4 v-5.56 M767.5 36.4 v5.56"/><path d="M780.6 546.4 v-5.56 M780.6 36.4 v5.56"/></g>
<rect x="80.4" y="36.4" width="704.2" height="510" fill="none" stroke="#000" stroke-width="1.39"/>
<text transform="translate(73.9 551.1) scale(0.98 1.085)" font-size="16.67" text-anchor="end">0</text>
<text transform="translate(73.9 491.6) scale(0.98 1.085)" font-size="16.67" text-anchor="end">2</text>
<text transform="translate(73.9 432.1) scale(0.98 1.085)" font-size="16.67" text-anchor="end">4</text>
<text transform="translate(73.9 372.6) scale(0.98 1.085)" font-size="16.67" text-anchor="end">6</text>
<text transform="translate(73.9 313.1) scale(0.98 1.085)" font-size="16.67" text-anchor="end">8</text>
<text transform="translate(73.9 253.6) scale(0.92 1.085)" font-size="16.67" text-anchor="end">10</text>
<text transform="translate(73.9 194.1) scale(0.92 1.085)" font-size="16.67" text-anchor="end">12</text>
<text transform="translate(73.9 134.6) scale(0.92 1.085)" font-size="16.67" text-anchor="end">14</text>
<text transform="translate(73.9 75.1) scale(0.92 1.085)" font-size="16.67" text-anchor="end">16</text>
<text transform="translate(109.9 558.8) rotate(-60)" y="4.5" font-size="12.3" text-anchor="middle">1</text>
<text transform="translate(170.1 558.8) rotate(-60)" y="4.5" font-size="12.3" text-anchor="middle">2</text>
<text transform="translate(224.1 558.8) rotate(-60)" y="4.5" font-size="12.3" text-anchor="middle">3</text>
<text transform="translate(271.2 558.8) rotate(-60)" y="4.5" font-size="12.3" text-anchor="middle">4</text>
<text transform="translate(317.2 558.8) rotate(-60)" y="4.5" font-size="12.3" text-anchor="middle">5</text>
<text transform="translate(360.2 558.8) rotate(-60)" y="4.5" font-size="12.3" text-anchor="middle">6</text>
<text transform="translate(400.1 558.8) rotate(-60)" y="4.5" font-size="12.3" text-anchor="middle">7</text>
<text transform="translate(437 558.8) rotate(-60)" y="4.5" font-size="12.3" text-anchor="middle">8</text>
<text transform="translate(472.1 558.8) rotate(-60)" y="4.5" font-size="12.3" text-anchor="middle">9</text>
<text transform="translate(505.7 563.2) rotate(-60)" y="4.4" font-size="12" letter-spacing="-0.9" text-anchor="middle">10</text>
<text transform="translate(538.6 563.2) rotate(-60)" y="4.4" font-size="12" letter-spacing="-0.9" text-anchor="middle">11</text>
<text transform="translate(571.6 563.2) rotate(-60)" y="4.4" font-size="12" letter-spacing="-0.9" text-anchor="middle">12</text>
<text transform="translate(604.7 563.2) rotate(-60)" y="4.4" font-size="12" letter-spacing="-0.9" text-anchor="middle">13</text>
<text transform="translate(631.7 563.2) rotate(-60)" y="4.4" font-size="12" letter-spacing="-0.9" text-anchor="middle">14</text>
<text transform="translate(657.5 563.2) rotate(-60)" y="4.4" font-size="12" letter-spacing="-0.9" text-anchor="middle">15</text>
<text transform="translate(678.5 563.2) rotate(-60)" y="4.4" font-size="12" letter-spacing="-0.9" text-anchor="middle">16</text>
<text transform="translate(699.6 563.2) rotate(-60)" y="4.4" font-size="12" letter-spacing="-0.9" text-anchor="middle">17</text>
<text transform="translate(718.6 563.2) rotate(-60)" y="4.4" font-size="12" letter-spacing="-0.9" text-anchor="middle">18</text>
<text transform="translate(735.6 563.2) rotate(-60)" y="4.4" font-size="12" letter-spacing="-0.9" text-anchor="middle">19</text>
<text transform="translate(750.6 563.2) rotate(-60)" y="4.4" font-size="12" letter-spacing="-0.9" text-anchor="middle">20</text>
<text transform="translate(765.6 563.2) rotate(-60)" y="4.4" font-size="12" letter-spacing="-0.9" text-anchor="middle">21</text>
<text transform="translate(778.7 563.2) rotate(-60)" y="4.4" font-size="12" letter-spacing="-0.9" text-anchor="middle">22</text>
<text transform="translate(432.4 592) scale(1 1.1)" font-size="16.67" text-anchor="middle">Chromosome number</text>
<text transform="translate(42.2 292.7) rotate(-90) scale(1 1.1)" font-size="16.67" text-anchor="middle">-log10(p-value)</text>
</svg></body></html>
